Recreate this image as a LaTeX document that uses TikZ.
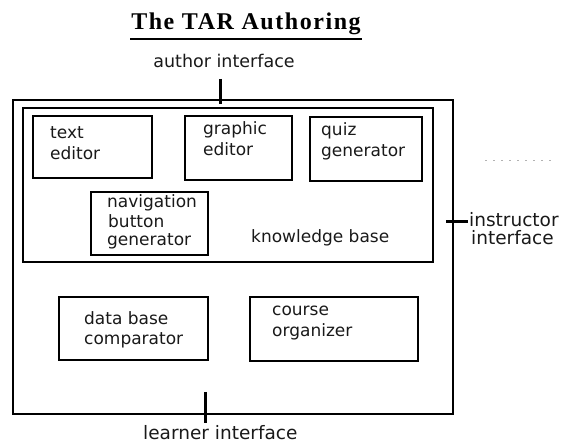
\documentclass[tikz,border=0pt]{standalone}
\usepackage{fontspec}
\newfontfamily\boxfont{DejaVu Sans}
\newfontfamily\titlefont[LetterSpace=6.5]{Liberation Serif}
\tikzset{
  box/.style={draw=black, line width=1.3pt, rectangle, inner sep=0pt},
  kbbox/.style={draw=black, line width=1.8pt, rectangle, inner sep=0pt},
  outerbox/.style={draw=black, line width=1.2pt, rectangle, inner sep=0pt},
  lbl/.style={font=\boxfont\fontsize{17}{20}\selectfont, anchor=base west, inner sep=0pt, text=black!90},
  ifacelbl/.style={font=\boxfont\fontsize{18.5}{22}\selectfont, inner sep=0pt, text=black!90},
  tickline/.style={line width=3pt, black},
}
\begin{document}
\begin{tikzpicture}[x=1pt,y=-1pt]
\useasboundingbox (0,0) rectangle (581,443);
% title
\node[font=\titlefont\bfseries\fontsize{24}{28}\selectfont, anchor=base, inner sep=0pt] (title) at (246,30) {The TAR Authoring};
\coordinate (ul1) at (130,39);
\coordinate (ul2) at (362,39);
\draw[line width=1.5pt] (ul1) -- (ul2);
% author interface
\node[ifacelbl, font=\boxfont\fontsize{17.5}{20}\selectfont, anchor=base] (author) at (224,68) {author interface};
% boxes
\node[outerbox, minimum width=440pt, minimum height=314pt] (outer) at (233,257) {};
\node[kbbox, minimum width=410pt, minimum height=154pt] (kb) at (228,185) {};
\node[box, minimum width=119pt, minimum height=62pt] (te) at (92.5,147) {};
\node[box, minimum width=107pt, minimum height=64pt] (ge) at (238.5,148) {};
\node[box, minimum width=112pt, minimum height=64pt] (qg) at (366,149) {};
\node[box, minimum width=117pt, minimum height=63pt] (nav) at (149.5,223.5) {};
\node[box, minimum width=149pt, minimum height=63pt] (db) at (133.5,328.5) {};
\node[box, minimum width=168pt, minimum height=64pt] (co) at (334,329) {};
% box texts
\node[lbl] (te1) at (50,139) {text};
\node[lbl] (te2) at (50,160) {editor};
\node[lbl] (ge1) at (203,135) {graphic};
\node[lbl] (ge2) at (203,156) {editor};
\node[lbl] (qg1) at (321,136) {quiz};
\node[lbl] (qg2) at (321,157) {generator};
\node[lbl] (nav1) at (107,208) {navigation};
\node[lbl] (nav2) at (108,228) {button};
\node[lbl] (nav3) at (107,246) {generator};
\node[lbl] (kbt) at (251,243) {knowledge base};
\node[lbl] (db1) at (84,325) {data base};
\node[lbl] (db2) at (84,345) {comparator};
\node[lbl] (co1) at (272,316) {course};
\node[lbl] (co2) at (272,337) {organizer};
% interface ticks
\coordinate (at1) at (220,79);
\coordinate (at2) at (220,104);
\draw[tickline] (at1) -- (at2);
\coordinate (it1) at (446,222);
\coordinate (it2) at (468,222);
\draw[tickline] (it1) -- (it2);
\coordinate (lt1) at (205,392);
\coordinate (lt2) at (205,423);
\draw[tickline] (lt1) -- (lt2);
% instructor / learner labels
\node[ifacelbl, anchor=base west] (instr1) at (469,227) {instructor};
\node[ifacelbl, anchor=base west] (instr2) at (471,245) {interface};
\node[ifacelbl, anchor=base west] (learner) at (143,439) {learner interface};
% faint scan dots
\coordinate (fd1) at (485,160);
\coordinate (fd2) at (553,160);
\draw[black!30, line width=0.8pt, dash pattern=on 2pt off 6pt] (fd1) -- (fd2);
\end{tikzpicture}
\end{document}
